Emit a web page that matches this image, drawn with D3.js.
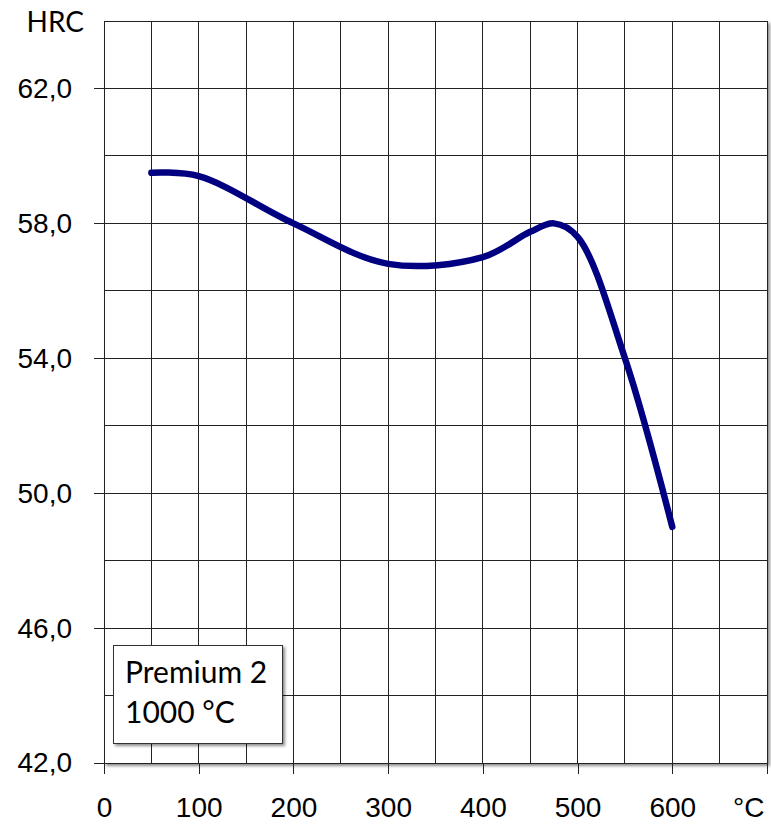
<!doctype html>
<html>
<head>
<meta charset="utf-8" />
<title>Premium 2 – tempering curve</title>
<script src="https://cdn.jsdelivr.net/npm/d3@7"></script>
<style>
  html,body{margin:0;background:#fff}
  svg{display:block;font-family:Lato, "Open Sans", sans-serif}
  .grid line{stroke:#222;stroke-width:1;shape-rendering:crispEdges}
  .axis text{font-size:28px;fill:#000}
  .axis line{stroke:#222;shape-rendering:crispEdges}
  .axis path{display:none}
</style>
</head>
<body>
<svg id="chart" width="771" height="825"></svg>
<script>
// tempering temperature (°C) and hardness (HRC)
const temps    = [50, 100, 200, 300, 400, 450, 475, 500, 550, 600];
const hardness = [59.5, 59.4, 58.0, 56.8, 57.0, 57.75, 58.0, 57.6, 54.0, 49.0];

const xTicks = [0, 100, 200, 300, 400, 500, 600, 700];
const yTicks = [42, 46, 50, 54, 58, 62];
const xGrid  = d3.range(0, 701, 50);
const yGrid  = d3.range(42, 64.1, 2);
const boxLines = ["Premium 2", "1000 °C"];

const svg = d3.select('#chart');
const L = 104, R = 767, T = 21, B = 763;

const x = d3.scaleLinear().domain([0, 700]).range([L, R]);
const y = d3.scaleLinear().domain([42, 64]).range([B, T]);

/* drop shadows */
const defs = svg.append('defs');
const sh = defs.append('filter').attr('id','shadow')
  .attr('x','-5%').attr('y','-5%').attr('width','115%').attr('height','115%');
sh.append('feDropShadow').attr('dx',2).attr('dy',2)
  .attr('stdDeviation',1.5).attr('flood-color','#000').attr('flood-opacity',0.45);

// plot frame with shadow
svg.append('rect')
  .attr('x', L).attr('y', T).attr('width', R - L).attr('height', B - T)
  .attr('fill','#fff').attr('stroke','#222').attr('stroke-width',1)
  .attr('shape-rendering','crispEdges')
  .attr('filter','url(#shadow)');

// grid
const grid = svg.append('g').attr('class','grid');
grid.selectAll('line.v').data(xGrid).join('line').attr('class','v')
  .attr('x1', d => x(d)).attr('x2', d => x(d)).attr('y1', T).attr('y2', B);
grid.selectAll('line.h').data(yGrid).join('line').attr('class','h')
  .attr('x1', L).attr('x2', R).attr('y1', d => y(d)).attr('y2', d => y(d));

// axes
svg.append('g').attr('class','axis')
  .attr('transform',`translate(${L},0)`)
  .call(d3.axisLeft(y).tickValues(yTicks).tickSize(10).tickPadding(22)
    .tickFormat(d => d3.format('.1f')(d).replace('.', ',')));

const xAxis = svg.append('g').attr('class','axis')
  .attr('transform',`translate(0,${B})`)
  .call(d3.axisBottom(x).tickValues(xTicks).tickSize(11).tickPadding(23)
    .tickFormat(d => d === 700 ? '°C' : d));
// unit label sits left of the last tick so it stays inside the frame
xAxis.selectAll('.tick text').filter(d => d === 700)
  .attr('text-anchor','end').attr('x', -3);

svg.append('text').attr('x', 84).attr('y', 32)
  .attr('text-anchor','end').attr('font-size', 28).text('HRC');

// curve (smoothed)
const line = d3.line()
  .x(d => x(d[0])).y(d => y(d[1]))
  .curve(d3.curveCatmullRom.alpha(0.5));

svg.append('path')
  .datum(d3.zip(temps, hardness))
  .attr('d', line)
  .attr('fill','none')
  .attr('stroke','#000080')
  .attr('stroke-width',6.5)
  .attr('stroke-linecap','round')
  .attr('stroke-linejoin','round');

// label box
const box = svg.append('g');
box.append('rect')
  .attr('x', 113).attr('y', 645).attr('width', 169).attr('height', 98)
  .attr('fill','#fff').attr('stroke','#333').attr('stroke-width',1)
  .attr('shape-rendering','crispEdges')
  .attr('filter','url(#shadow)');
box.selectAll('text').data(boxLines).join('text')
  .attr('x', 125).attr('y', (d, i) => 683 + i * 40)
  .attr('font-size', 30).text(d => d);
</script>
</body>
</html>
